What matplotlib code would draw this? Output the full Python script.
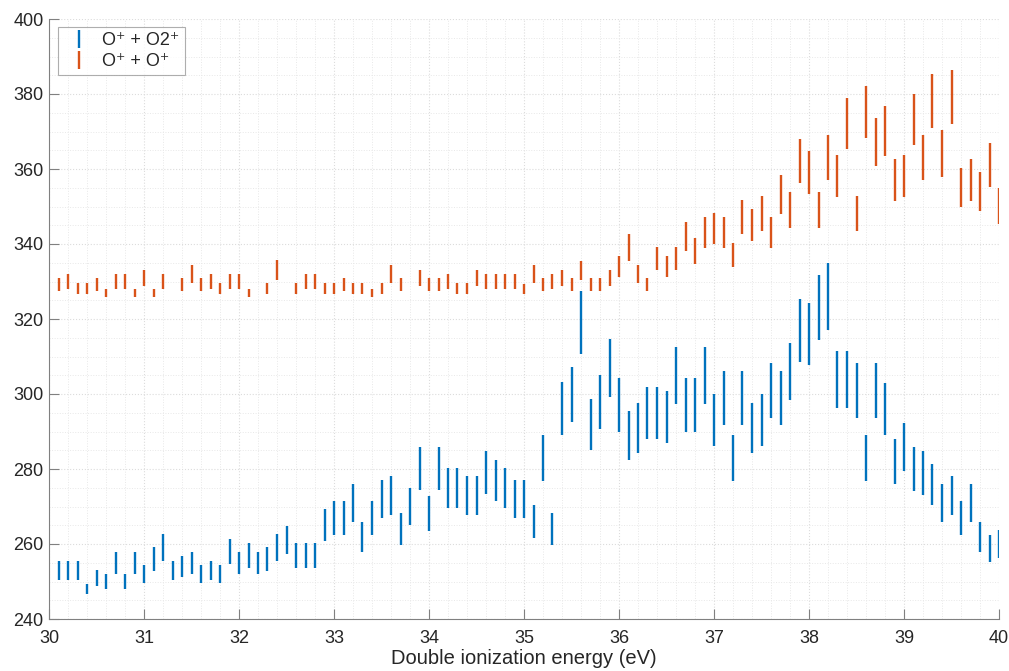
import numpy as np
import matplotlib
matplotlib.use("Agg")
import matplotlib.pyplot as plt
from matplotlib.ticker import MultipleLocator

energy = [30.1, 30.2, 30.3, 30.4, 30.5, 30.6, 30.7, 30.8, 30.9, 31.0,
          31.1, 31.2, 31.3, 31.4, 31.5, 31.6, 31.7, 31.8, 31.9, 32.0,
          32.1, 32.2, 32.3, 32.4, 32.5, 32.6, 32.7, 32.8, 32.9, 33.0,
          33.1, 33.2, 33.3, 33.4, 33.5, 33.6, 33.7, 33.8, 33.9, 34.0,
          34.1, 34.2, 34.3, 34.4, 34.5, 34.6, 34.7, 34.8, 34.9, 35.0,
          35.1, 35.2, 35.3, 35.4, 35.5, 35.6, 35.7, 35.8, 35.9, 36.0,
          36.1, 36.2, 36.3, 36.4, 36.5, 36.6, 36.7, 36.8, 36.9, 37.0,
          37.1, 37.2, 37.3, 37.4, 37.5, 37.6, 37.7, 37.8, 37.9, 38.0,
          38.1, 38.2, 38.3, 38.4, 38.5, 38.6, 38.7, 38.8, 38.9, 39.0,
          39.1, 39.2, 39.3, 39.4, 39.5, 39.6, 39.7, 39.8, 39.9, 40.0]

o2_low = [250.3, 250.3, 250.3, 246.6, 248.7, 248.0, 252.1, 248.0, 252.1, 249.6,
          252.9, 255.4, 250.3, 251.1, 252.1, 249.6, 250.3, 249.6, 254.6, 252.1,
          253.7, 252.1, 252.9, 255.4, 257.3, 253.7, 253.7, 253.7, 260.7, 262.4,
          262.4, 266.0, 258.0, 262.4, 267.0, 267.8, 259.8, 265.1, 274.3, 263.4,
          274.3, 269.7, 269.7, 267.8, 267.8, 273.3, 271.5, 269.7, 267.0, 266.8,
          261.5, 276.9, 259.7, 289.0, 292.6, 310.6, 285.2, 290.8, 299.3, 289.9,
          282.4, 284.4, 288.0, 288.0, 287.0, 297.3, 289.9, 289.9, 297.3, 286.1,
          291.7, 276.9, 291.7, 284.4, 286.1, 293.6, 291.7, 298.3, 308.6, 307.7,
          314.4, 317.1, 296.4, 296.4, 293.6, 276.9, 293.6, 289.0, 275.9, 279.6,
          274.1, 273.2, 270.4, 266.0, 267.7, 262.4, 266.0, 258.0, 255.3, 256.2]
o2_high = [255.6, 255.6, 255.6, 249.4, 253.2, 251.9, 258.0, 251.9, 258.0, 254.4,
           259.1, 262.6, 255.6, 256.8, 258.0, 254.4, 255.6, 254.4, 261.4, 258.0,
           260.3, 258.0, 259.1, 262.6, 264.9, 260.3, 260.3, 260.3, 269.3, 271.5,
           271.5, 276.0, 265.9, 271.5, 277.1, 278.2, 268.2, 274.9, 285.8, 272.7,
           285.8, 280.3, 280.3, 278.2, 278.2, 284.7, 282.5, 280.3, 277.1, 277.1,
           270.4, 289.0, 268.2, 303.1, 307.3, 327.6, 298.8, 305.2, 314.8, 304.2,
           295.6, 297.7, 302.0, 302.0, 300.9, 312.6, 304.2, 304.2, 312.6, 299.9,
           306.2, 289.0, 306.2, 297.7, 299.9, 308.4, 306.2, 313.7, 325.4, 324.4,
           331.8, 335.0, 311.6, 311.6, 308.4, 289.0, 308.4, 303.0, 287.9, 292.2,
           285.8, 284.7, 281.3, 275.9, 278.1, 271.5, 275.9, 265.8, 262.4, 263.6]

oo_low = [327.4, 328.1, 326.7, 326.7, 327.4, 326.0, 328.1, 328.1, 326.0, 328.9,
          326.0, 328.1, np.nan, 327.4, 329.7, 327.4, 328.1, 326.7, 328.1, 328.1,
          326.0, np.nan, 326.7, 330.4, np.nan, 326.7, 328.1, 328.1, 326.7, 326.7,
          327.4, 326.7, 326.7, 326.0, 326.7, 329.7, 327.4, np.nan, 328.9, 327.4,
          327.4, 328.1, 326.7, 326.7, 328.9, 328.1, 328.1, 328.1, 328.1, 326.7,
          329.7, 327.4, 328.1, 328.9, 327.4, 330.5, 327.4, 327.4, 328.9, 331.3,
          335.5, 329.7, 327.4, 333.1, 331.3, 333.1, 338.1, 334.7, 339.0, 339.9,
          339.0, 333.8, 342.6, 340.8, 343.4, 339.0, 348.0, 344.4, 356.2, 353.4,
          344.4, 357.1, 352.5, 365.4, 343.4, 368.2, 360.8, 363.6, 351.6, 352.5,
          366.3, 357.1, 371.0, 358.0, 371.9, 349.8, 351.6, 348.9, 355.3, 345.3]
oo_high = [330.8, 332.0, 329.5, 329.5, 330.8, 328.0, 332.0, 332.0, 328.0, 333.2,
           328.0, 332.0, np.nan, 330.8, 334.5, 330.8, 332.0, 329.5, 332.0, 332.0,
           328.0, np.nan, 329.5, 335.7, np.nan, 329.5, 332.0, 332.0, 329.5, 329.5,
           330.8, 329.5, 329.5, 328.0, 329.5, 334.5, 330.8, np.nan, 333.2, 330.8,
           330.8, 332.0, 329.5, 329.5, 333.2, 332.0, 332.0, 332.0, 332.0, 329.4,
           334.5, 330.8, 332.0, 333.2, 330.8, 335.6, 330.8, 330.8, 333.2, 336.9,
           342.7, 334.5, 330.8, 339.2, 336.9, 339.2, 346.0, 341.5, 347.2, 348.4,
           347.2, 340.4, 351.7, 349.4, 352.8, 347.2, 358.3, 353.9, 368.1, 364.9,
           353.9, 369.2, 363.7, 378.8, 352.8, 382.1, 373.5, 376.7, 362.7, 363.7,
           380.0, 369.2, 385.3, 370.3, 386.4, 360.4, 362.7, 359.3, 367.0, 354.9]

labels = ["O⁺ + O2⁺", "O⁺ + O⁺"]
xticks = [30, 31, 32, 33, 34, 35, 36, 37, 38, 39, 40]
yticks = [240, 260, 280, 300, 320, 340, 360, 380, 400]

plt.rcParams['font.family'] = ['Liberation Sans', 'DejaVu Sans']

fig = plt.figure(figsize=(10.09, 6.71), dpi=100)
ax = fig.add_axes([49 / 1009, 52 / 671, 950 / 1009, 600 / 671])

colors = ['#0072BD', '#D95319']
series = [(o2_low, o2_high), (oo_low, oo_high)]
x = np.array(energy)
for (lo, hi), c, lab in zip(series, colors, labels):
    lo = np.array(lo, dtype=float)
    hi = np.array(hi, dtype=float)
    mid = (lo + hi) / 2
    err = (hi - lo) / 2
    ax.errorbar(x, mid, yerr=err, fmt='none', ecolor=c, elinewidth=1.7,
                capsize=0, label=lab)

ax.set_xlim(30, 40)
ax.set_ylim(240, 400)
ax.set_xticks(xticks)
ax.set_yticks(yticks)
ax.xaxis.set_minor_locator(MultipleLocator(0.2))
ax.yaxis.set_minor_locator(MultipleLocator(5))
ax.grid(True, which='major', color='#dcdcdc', linestyle=':', linewidth=0.8)
ax.grid(True, which='minor', color='#e8e8e8', linestyle=':', linewidth=0.7)
ax.set_axisbelow(True)

for s in ['top', 'right']:
    ax.spines[s].set_visible(False)
for s in ['left', 'bottom']:
    ax.spines[s].set_color('#808080')
    ax.spines[s].set_linewidth(0.8)

ax.tick_params(which='major', direction='in', length=7, width=0.8,
               color='#808080', labelsize=13, labelcolor='#262626')
ax.tick_params(axis='x', which='major', pad=8)
ax.tick_params(axis='y', which='major', pad=4)
ax.tick_params(which='minor', length=0)

ax.set_xlabel('Double ionization energy (eV)', fontsize=14.5, color='#262626',
              labelpad=1)

leg = ax.legend(loc='upper left', bbox_to_anchor=(9 / 950, 592 / 600),
                borderaxespad=0, fontsize=13,
                frameon=True, fancybox=False, edgecolor='#9a9a9a',
                handlelength=1.7, handletextpad=0.45, borderpad=0.3,
                labelspacing=0.2)
leg.get_frame().set_linewidth(0.8)
for t in leg.get_texts():
    t.set_color('#262626')

fig.savefig('out.png', dpi=100)
